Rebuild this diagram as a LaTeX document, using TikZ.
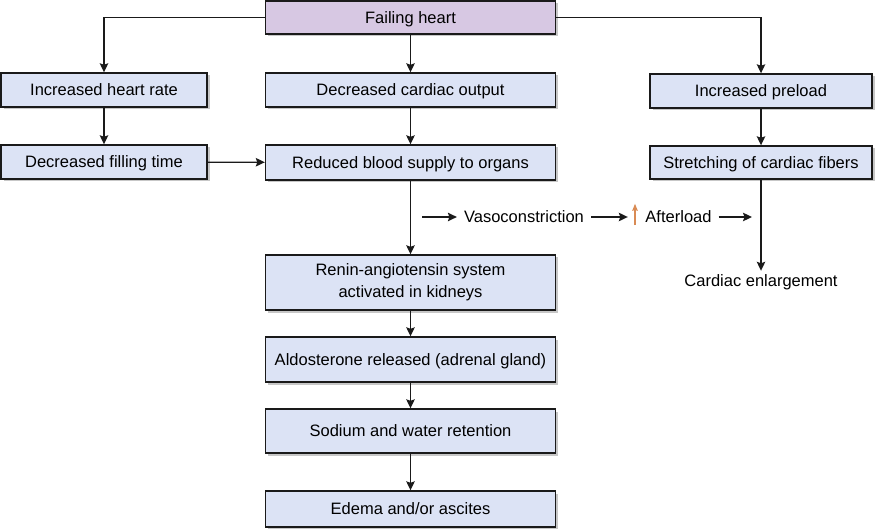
\documentclass[tikz,border=0pt]{standalone}
\usepackage{fontspec}
\setmainfont{Liberation Sans}
\usetikzlibrary{arrows.meta,positioning,shadows}
\definecolor{boxblue}{HTML}{DCE3F5}
\definecolor{heartlilac}{HTML}{D7C8E3}
\definecolor{upcolor}{HTML}{D98B55}
\definecolor{linegray}{HTML}{1A1A1A}
\tikzset{
  arr/.style={-{Stealth[length=9pt,width=8.5pt,inset=1.5pt]},line width=1.3pt,draw=linegray},
  uparr/.style={-{Stealth[length=7pt,width=5.5pt,inset=1pt]},line width=1.4pt,draw=upcolor},
  plainbox/.style={rectangle,draw=linegray,line width=1.4pt,fill=boxblue,
    minimum width=290pt,minimum height=34pt,inner sep=0pt,text centered,
    drop shadow={shadow xshift=2.5pt,shadow yshift=-2.5pt,fill=black!22,opacity=1}},
  box/.style={plainbox,text height=15pt,text depth=3.2pt},
  lbl/.style={inner sep=7pt},
}
\begin{document}
\begin{tikzpicture}[x=1pt,y=-1pt,
  font=\fontsize{16.5}{22}\selectfont,
  side/.style={box,minimum width=206pt},
  rside/.style={box,minimum width=222pt}]
\useasboundingbox (0,0) rectangle (875,529);

% top and first row
\node[box,fill=heartlilac,minimum height=33pt] (heart) at (410.5,17.5) {Failing heart};
\node[side] (hr) at (104,90) {Increased heart rate};
\node[box] (dco) at (410.5,90) {Decreased cardiac output};
\node[rside] (ip) at (761,91) {Increased preload};

% second row
\node[side] (dft) at (104,162) {Decreased filling time};
\node[box,minimum height=35pt] (rbs) at (410.5,162.5) {Reduced blood supply to organs};
\node[rside,minimum height=33pt] (scf) at (761,162.5) {Stretching of cardiac fibers};

% afterload chain
\coordinate (vstart) at (422,217);
\node[lbl] (vaso) at (524,217) {Vasoconstriction};
\node[inner sep=0pt,minimum width=14pt,minimum height=21pt] (upmark) at (635,214.5) {};
\node[lbl] (after) at (678.5,217) {Afterload};
\coordinate (join) at (752,217);
\node (ce) at (761,282) {Cardiac enlargement};

% kidney chain
\node[plainbox,minimum height=55pt,align=center] (ras) at (410.5,282.5) {Renin-angiotensin system\\activated in kidneys};
\node[box,minimum height=45pt] (ald) at (410.5,359.5) {Aldosterone released (adrenal gland)};
\node[box,minimum height=44pt] (swr) at (410.5,431) {Sodium and water retention};
\node[box,minimum height=36pt] (eda) at (410.5,509) {Edema and/or ascites};

% connectors
\draw[arr] (heart.west) -| (hr.north);
\draw[arr] (heart.east) -| (ip.north);
\draw[arr] (heart) -- (dco);
\draw[arr] (hr) -- (dft);
\draw[arr] (dft) -- (rbs);
\draw[arr] (dco) -- (rbs);
\draw[arr] (ip) -- (scf);
\draw[arr] (scf) -- (ce);
\draw[arr] (rbs) -- (ras);
\draw[arr] (ras) -- (ald);
\draw[arr] (ald) -- (swr);
\draw[arr] (swr) -- (eda);
\draw[arr] (vstart) -- (vaso);
\draw[arr] (vaso) -- (vaso -| upmark.west);
\draw[uparr] (upmark.south) -- (upmark.north);
\draw[arr] (after) -- (join);
\end{tikzpicture}
\end{document}
